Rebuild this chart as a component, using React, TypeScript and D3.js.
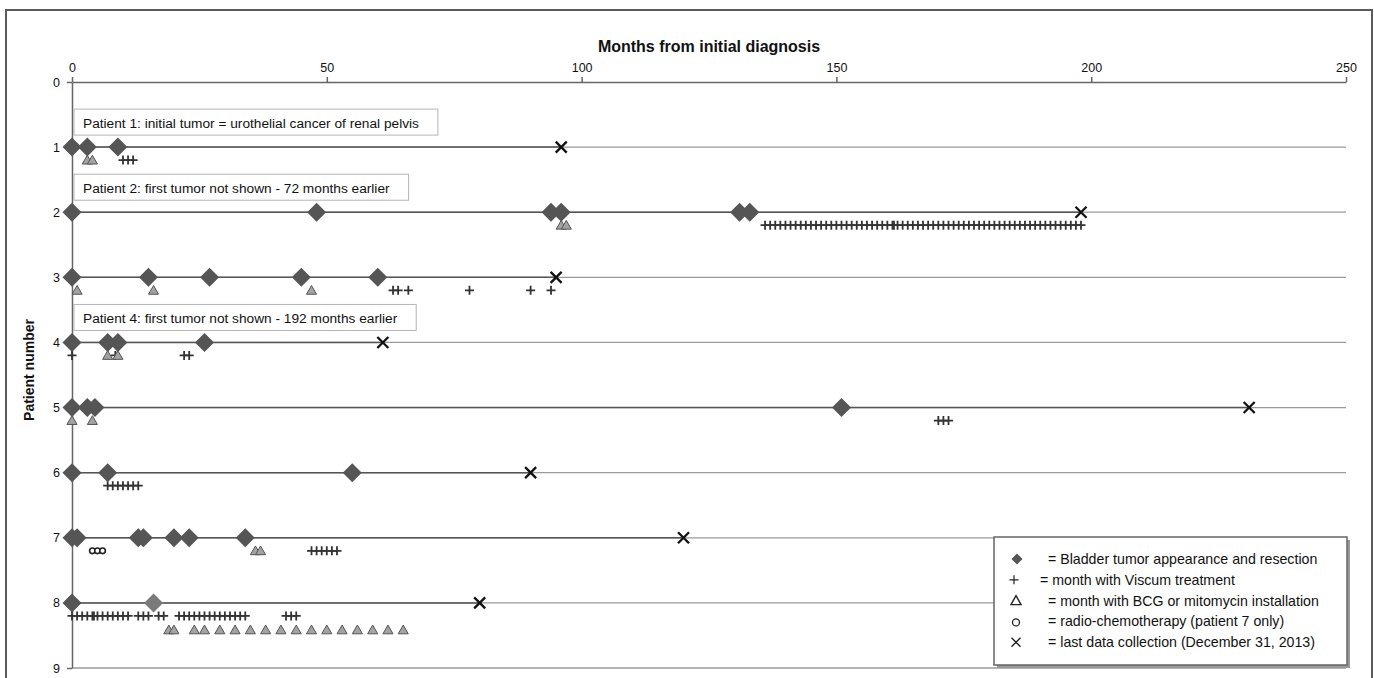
import * as d3 from "d3";
import React from "react";

// months from initial diagnosis, one list per patient (1..8)
const patients = [1, 2, 3, 4, 5, 6, 7, 8];
const tumorMonths = [
  [0, 3, 9],
  [0, 48, 94, 96, 131, 133],
  [0, 15, 27, 45, 60],
  [0, 7, 9, 26],
  [0, 3, 4.5, 151],
  [0, 7, 55],
  [0, 1, 13, 14, 20, 23, 34],
  [0, 16],
];
const viscumMonths = [
  [10, 11, 12],
  [136, 137, 138, 139, 140, 141, 142, 143, 144, 145, 146, 147, 148, 149, 150, 151, 152, 153, 154, 155, 156, 157, 158, 159, 160, 161, 161.3, 162, 163, 164, 165, 166, 167, 168, 169, 170, 171, 172, 173, 174, 175, 176, 177, 178, 179, 180, 181, 182, 183, 184, 185, 186, 187, 188, 189, 190, 191, 192, 193, 194, 195, 196, 197, 198],
  [63, 64, 66, 78, 90, 94],
  [0, 8.5, 22, 23],
  [170, 171, 172],
  [7, 8, 9, 10, 11, 12, 13],
  [47, 48, 49, 50, 51, 52],
  [0, 1, 2, 3, 4, 4.3, 5, 6, 7, 8, 9, 10, 11, 13, 14, 15, 17, 18, 21, 22, 23, 24, 25, 26, 27, 28, 29, 30, 31, 32, 33, 34, 42, 43, 44],
];
const bcgMonths = [
  [3, 4],
  [96, 97],
  [1, 16, 47],
  [7, 9],
  [0, 4],
  [],
  [36, 37],
  [19, 20, 24, 26, 29, 32, 35, 38, 41, 44, 47, 50, 53, 56, 59, 62, 65],
];
const radioMonths = [[], [], [], [], [], [], [4, 5, 6], []];
const lastMonths = [96, 198, 95, 61, 231, 90, 120, 80];

const xTicks = [0, 50, 100, 150, 200, 250];
const yTicks = [0, 1, 2, 3, 4, 5, 6, 7, 8, 9];

const notePatients = [1, 2, 4];
const noteTexts = [
  "Patient 1: initial tumor = urothelial cancer of renal pelvis",
  "Patient 2: first tumor not shown - 72 months earlier",
  "Patient 4: first tumor not shown - 192 months earlier",
];

const legendLabels = [
  "= Bladder tumor appearance and resection",
  "= month with Viscum treatment",
  "= month with BCG or mitomycin installation",
  "= radio-chemotherapy (patient 7 only)",
  "= last data collection (December 31, 2013)",
];

const FONT = "'Liberation Sans', Arial, sans-serif";
const diamondPath = (r) => `M0,${-r}L${r},0L0,${r}L${-r},0Z`;
const plusPath = (r) => `M${-r},0H${r}M0,${-r}V${r}`;
const crossPath = (r) => `M${-r},${-r}L${r},${r}M${-r},${r}L${r},${-r}`;

const App = () => {
  const ref = React.useRef(null);

  React.useEffect(() => {
    const width = 1374,
      height = 678;
    const svg = d3.select(ref.current).attr("width", width).attr("height", height);
    svg.selectAll("*").remove();

    const x = d3.scaleLinear().domain([0, 250]).range([72, 1346]);
    const y = d3.scaleLinear().domain([0, 9]).range([82, 668]);

    // outer frame
    svg
      .append("rect")
      .attr("x", 6)
      .attr("y", 10)
      .attr("width", 1366)
      .attr("height", 700)
      .attr("fill", "white")
      .attr("stroke", "#5a5a5a")
      .attr("stroke-width", 2);

    // gridlines for every patient row
    svg
      .append("g")
      .selectAll("line")
      .data(yTicks.slice(1))
      .enter()
      .append("line")
      .attr("x1", x(0))
      .attr("x2", x(250))
      .attr("y1", (d) => y(d))
      .attr("y2", (d) => y(d))
      .attr("stroke", "#9a9a9a")
      .attr("stroke-width", 1.3);

    // patient series line up to last collection
    svg
      .append("g")
      .selectAll("line")
      .data(patients)
      .enter()
      .append("line")
      .attr("x1", x(0))
      .attr("x2", (d, i) => x(lastMonths[i]))
      .attr("y1", (d) => y(d))
      .attr("y2", (d) => y(d))
      .attr("stroke", "#555")
      .attr("stroke-width", 1.5);

    // axes
    const xAxis = d3.axisTop(x).tickValues(xTicks).tickSize(5).tickSizeOuter(0).tickPadding(5);
    const yAxis = d3.axisLeft(y).tickValues(yTicks).tickSize(5).tickSizeOuter(0).tickPadding(7);
    [
      [xAxis, `translate(0,${y(0)})`],
      [yAxis, `translate(${x(0)},0)`],
    ].forEach(([axis, tr]) => {
      const g = svg.append("g").attr("transform", tr).call(axis);
      g.selectAll("path,line").attr("stroke", "#666").attr("stroke-width", 1.5);
      g.selectAll("text").attr("font-family", FONT).attr("font-size", 12.5).attr("fill", "#111");
    });

    svg
      .append("text")
      .attr("x", 709)
      .attr("y", 52)
      .attr("text-anchor", "middle")
      .attr("font-family", FONT)
      .attr("font-weight", "bold")
      .attr("font-size", 16)
      .attr("fill", "#111")
      .text("Months from initial diagnosis");

    svg
      .append("text")
      .attr("transform", "translate(34,370) rotate(-90)")
      .attr("text-anchor", "middle")
      .attr("font-family", FONT)
      .attr("font-weight", "bold")
      .attr("font-size", 14)
      .attr("fill", "#111")
      .text("Patient number");

    // annotation boxes
    notePatients.forEach((p, i) => {
      const g = svg.append("g");
      const rect = g.append("rect");
      const t = g
        .append("text")
        .attr("x", x(0) + 11)
        .attr("y", y(p) - 19)
        .attr("font-family", FONT)
        .attr("font-size", 13.7)
        .attr("fill", "#111")
        .text(noteTexts[i]);
      const tw = t.node().getComputedTextLength();
      rect
        .attr("x", x(0) + 2)
        .attr("y", y(p) - 38)
        .attr("width", tw + 28)
        .attr("height", 26)
        .attr("fill", "white")
        .attr("stroke", "#b5b5b5");
    });

    const marks = svg.append("g");
    patients.forEach((p, i) => {
      const row = marks.append("g");
      row
        .selectAll(".viscum")
        .data(viscumMonths[i])
        .enter()
        .append("path")
        .attr("d", plusPath(4.5))
        .attr("transform", (d) => `translate(${x(d)},${y(p) + 13})`)
        .attr("stroke", "#333")
        .attr("stroke-width", 1.8)
        .attr("fill", "none");
      row
        .selectAll(".bcg")
        .data(bcgMonths[i])
        .enter()
        .append("path")
        .attr("d", d3.symbol(d3.symbolTriangle, 44)())
        .attr("transform", (d) => `translate(${x(d)},${y(p) + (p === 8 ? 28 : 14)})`)
        .attr("fill", "#a3a3a3")
        .attr("stroke", "#555")
        .attr("stroke-width", 1);
      row
        .selectAll(".radio")
        .data(radioMonths[i])
        .enter()
        .append("circle")
        .attr("cx", (d) => x(d))
        .attr("cy", y(p) + 13)
        .attr("r", 2.8)
        .attr("fill", "white")
        .attr("stroke", "#222")
        .attr("stroke-width", 1.6);
      row
        .selectAll(".tumor")
        .data(tumorMonths[i])
        .enter()
        .append("path")
        .attr("d", diamondPath(9.5))
        .attr("transform", (d) => `translate(${x(d)},${y(p)})`)
        .attr("fill", (d, j) => (p === 8 && j === 1 ? "#7a7a7a" : "#555"));
      row
        .append("path")
        .attr("d", crossPath(5.5))
        .attr("transform", `translate(${x(lastMonths[i])},${y(p)})`)
        .attr("stroke", "#111")
        .attr("stroke-width", 2.3)
        .attr("fill", "none");
    });

    // legend
    const lg = svg.append("g").attr("transform", "translate(994,537)");
    lg.append("rect").attr("x", 3).attr("y", 3).attr("width", 353).attr("height", 128).attr("fill", "#999");
    lg.append("rect")
      .attr("width", 353)
      .attr("height", 128)
      .attr("fill", "white")
      .attr("stroke", "#666")
      .attr("stroke-width", 1.5);
    const ly = (k) => 22 + k * 20.8;
    lg.append("path").attr("d", diamondPath(5.5)).attr("transform", `translate(23,${ly(0)})`).attr("fill", "#555");
    lg.append("path").attr("d", plusPath(4.5)).attr("transform", `translate(20,${ly(1)})`).attr("stroke", "#222").attr("stroke-width", 1.2);
    lg.append("path").attr("d", "M0,-5L5,4H-5Z").attr("transform", `translate(22,${ly(2)})`).attr("fill", "none").attr("stroke", "#222").attr("stroke-width", 1.4);
    lg.append("circle").attr("cx", 22).attr("cy", ly(3) + 1).attr("r", 3.5).attr("fill", "none").attr("stroke", "#222").attr("stroke-width", 1.3);
    lg.append("path").attr("d", crossPath(4.5)).attr("transform", `translate(22,${ly(4)})`).attr("stroke", "#222").attr("stroke-width", 1.4);
    lg.selectAll(".lab")
      .data(legendLabels)
      .enter()
      .append("text")
      .attr("x", (d, k) => (k === 1 ? 46 : 54))
      .attr("y", (d, k) => ly(k) + 5)
      .attr("font-family", FONT)
      .attr("font-size", 14.2)
      .attr("fill", "#111")
      .text((d) => d);
  }, []);

  return <svg ref={ref} style={{ position: "absolute", left: 0, top: 0 }}></svg>;
};

export default App;
